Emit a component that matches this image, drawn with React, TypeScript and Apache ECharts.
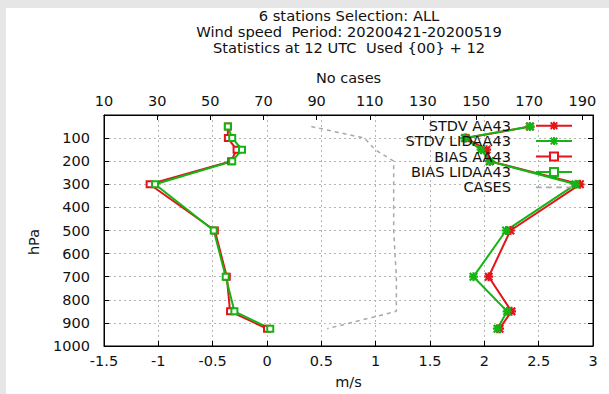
import { useEffect, useRef } from 'react';
import * as echarts from 'echarts';

// Pressure levels (hPa) of the vertical profile
const levels = [50, 100, 150, 200, 300, 500, 700, 850, 925];

// Wind speed statistics (m/s) per level
const stdvAA43 = [2.42, 1.83, 2.02, 2.05, 2.88, 2.24, 2.04, 2.25, 2.14];
const stdvLIDAA43 = [2.42, 1.82, 1.97, 2.05, 2.84, 2.2, 1.9, 2.21, 2.12];
const biasAA43 = [-0.36, -0.36, -0.28, -0.33, -1.08, -0.48, -0.37, -0.34, 0.0];
const biasLIDAA43 = [-0.36, -0.32, -0.23, -0.32, -1.03, -0.49, -0.38, -0.3, 0.03];

// Number of cases per level (top axis)
const cases = [88, 108, 112, 119, 119, 119, 120, 120, 94];

const titleLines = [
  '6 stations Selection: ALL',
  'Wind speed  Period: 20200421-20200519',
  'Statistics at 12 UTC  Used {00} + 12',
];

const RED = '#e4141a';
const GREEN = '#14b414';
const GREY = '#a8a8a8';
const FONT = 'DejaVu Sans';
const FS = 14.5;

// asterisk marker: plus and cross bars
const STAR =
  'path://M0,3.8H10V6.2H0Z M3.8,0H6.2V10H3.8Z M1.7,0L10,8.3L8.3,10L0,1.7Z M8.3,0L10,1.7L1.7,10L0,8.3Z';
// dashed sample for the CASES key
const DASH = 'path://M0,0H5V1.5H0Z M9,0H14V1.5H9Z M18,0H23V1.5H18Z M27,0H32V1.5H27Z';

const gridDots = { type: [2, 3] as number[], color: '#b4b4b4', width: 1 };
const labelStyle = { color: '#111', fontSize: FS, fontFamily: FONT };
const plain = (v: number) => String(v);

export default function App() {
  const ref = useRef<HTMLDivElement>(null);

  useEffect(() => {
    if (!ref.current) return;
    const chart = echarts.init(ref.current, undefined, { renderer: 'svg' });

    const pairs = (vals: number[]) => levels.map((p, i) => [vals[i], p]);

    const stdv = (name: string, vals: number[], color: string) => ({
      name,
      type: 'line',
      xAxisIndex: 0,
      yAxisIndex: 0,
      data: pairs(vals),
      symbol: STAR,
      symbolSize: 9,
      lineStyle: { width: 2, color },
      itemStyle: { color },
    });
    const bias = (name: string, vals: number[], color: string) => ({
      name,
      type: 'line',
      xAxisIndex: 0,
      yAxisIndex: 0,
      data: pairs(vals),
      symbol: 'emptyRect',
      symbolSize: 6,
      lineStyle: { width: 2, color },
      itemStyle: { color, borderWidth: 1.5 },
    });

    chart.setOption({
      animation: false,
      backgroundColor: '#fff',
      textStyle: { fontFamily: FONT },
      grid: {
        left: 98,
        right: 16,
        top: 107,
        bottom: 46,
        show: true,
        borderColor: '#000',
        borderWidth: 1,
        backgroundColor: 'transparent',
      },
      graphic: [
        {
          type: 'text',
          x: 343,
          y: -0.5,
          style: {
            text: titleLines.join('\n'),
            align: 'center',
            verticalAlign: 'top',
            fontSize: 14.7,
            fontFamily: FONT,
            lineHeight: 16,
            fill: '#111',
          },
        },
      ],
      legend: {
        orient: 'vertical',
        align: 'right',
        right: 36,
        top: 110,
        padding: 0,
        itemWidth: 36,
        itemHeight: 10,
        itemGap: 0,
        textStyle: {
          fontSize: FS,
          fontFamily: FONT,
          color: '#111',
          lineHeight: 15.4,
          padding: [0, 20, 0, 0],
        },
        data: ['STDV AA43', 'STDV LIDAA43', 'BIAS AA43', 'BIAS LIDAA43', { name: 'CASES', icon: DASH }],
      },
      xAxis: [
        {
          type: 'value',
          position: 'bottom',
          min: -1.5,
          max: 3,
          interval: 0.5,
          name: 'm/s',
          nameLocation: 'middle',
          nameGap: 28,
          nameTextStyle: labelStyle,
          axisLine: { onZero: false, lineStyle: { color: '#000' } },
          axisTick: { inside: true, length: 5, lineStyle: { color: '#000' } },
          axisLabel: { ...labelStyle, margin: 7, formatter: plain },
          splitLine: { show: true, lineStyle: gridDots },
        },
        {
          type: 'value',
          position: 'top',
          min: 10,
          max: 194,
          interval: 20,
          name: 'No cases',
          nameLocation: 'middle',
          nameGap: 30,
          nameTextStyle: labelStyle,
          axisLine: { onZero: false, lineStyle: { color: '#000' } },
          axisTick: { inside: true, length: 5, lineStyle: { color: '#000' } },
          axisLabel: { ...labelStyle, margin: 7, showMaxLabel: false, formatter: plain },
          splitLine: { show: false },
        },
      ],
      yAxis: [
        {
          type: 'value',
          position: 'left',
          inverse: true,
          min: 0,
          max: 1000,
          interval: 100,
          name: 'hPa',
          nameLocation: 'middle',
          nameGap: 63,
          nameTextStyle: { ...labelStyle, padding: [0, 23, 0, 0] },
          axisLine: { onZero: false, lineStyle: { color: '#000' } },
          axisTick: { inside: true, length: 5, lineStyle: { color: '#000' } },
          axisLabel: { ...labelStyle, margin: 14, showMinLabel: false, formatter: plain },
          splitLine: { show: true, lineStyle: gridDots },
        },
        {
          type: 'value',
          position: 'right',
          inverse: true,
          min: 0,
          max: 1000,
          interval: 100,
          axisLine: { onZero: false, lineStyle: { color: '#000' } },
          axisTick: { inside: true, length: 5, lineStyle: { color: '#000' } },
          axisLabel: { show: false },
          splitLine: { show: false },
        },
      ],
      series: [
        stdv('STDV AA43', stdvAA43, RED),
        stdv('STDV LIDAA43', stdvLIDAA43, GREEN),
        bias('BIAS AA43', biasAA43, RED),
        bias('BIAS LIDAA43', biasLIDAA43, GREEN),
        {
          name: 'CASES',
          type: 'line',
          xAxisIndex: 1,
          yAxisIndex: 0,
          data: pairs(cases),
          symbol: 'none',
          lineStyle: { width: 1.5, color: GREY, type: [4, 4] },
          itemStyle: { color: GREY },
        },
      ],
    });

    return () => chart.dispose();
  }, []);

  return (
    <div style={{ position: 'fixed', inset: 0, background: '#e6e6e6' }}>
      <div
        ref={ref}
        style={{ position: 'absolute', left: 6, top: 8, width: 603, height: 386, background: '#fff' }}
      />
    </div>
  );
}
